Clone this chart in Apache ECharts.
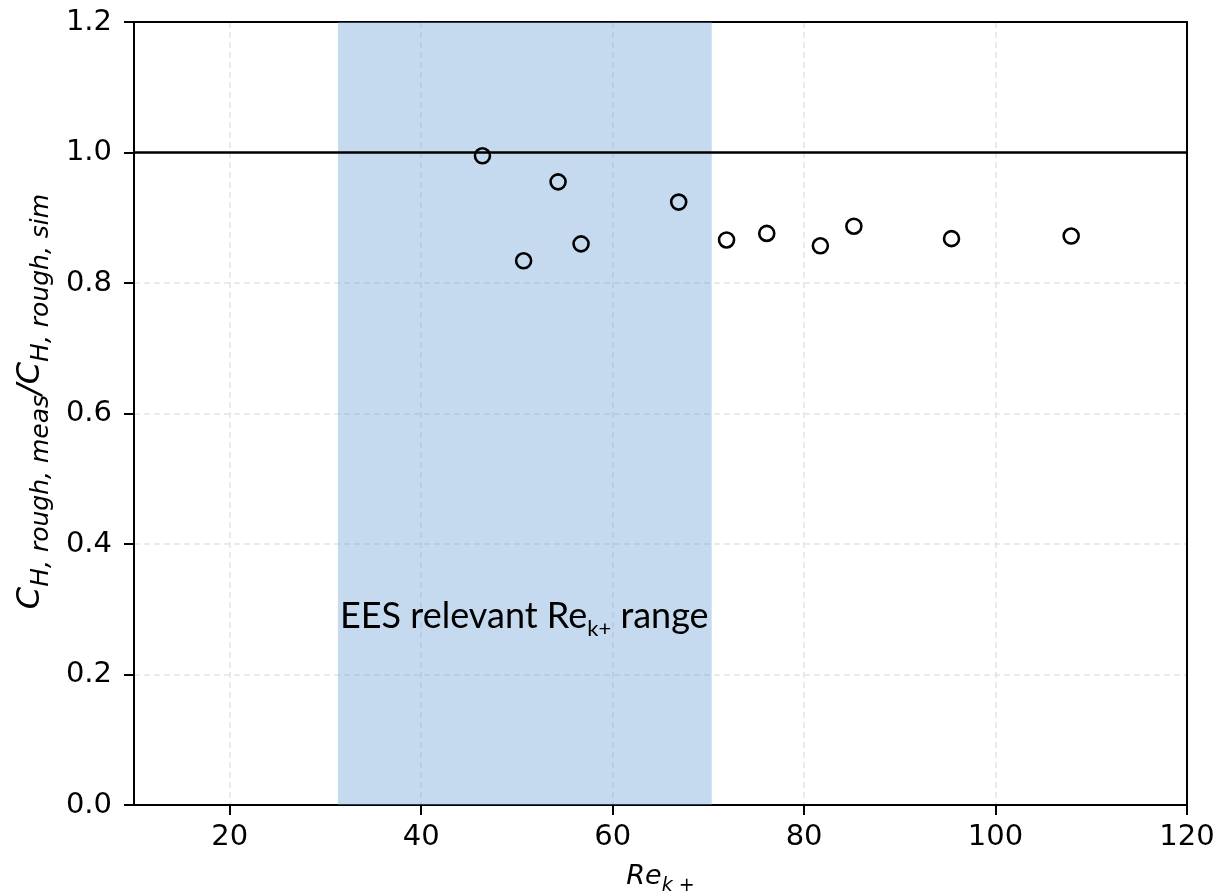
<!DOCTYPE html>
<html>
<head>
<meta charset="utf-8">
<script src="https://cdn.jsdelivr.net/npm/echarts@6/dist/echarts.min.js"></script>
<style>
  html, body { margin: 0; padding: 0; background: #fff; }
  #chart { width: 1223px; height: 896px; }
</style>
</head>
<body>
<div id="chart"></div>
<script>
// Roughness Reynolds number Re_k+ and the measured/simulated Stanton ratio
const reK = [46.4, 50.7, 54.3, 56.7, 66.9, 71.9, 76.1, 81.7, 85.2, 95.4, 107.9];
const chRatio = [0.995, 0.834, 0.955, 0.860, 0.924, 0.866, 0.876, 0.857, 0.887, 0.868, 0.872];

// Re_k+ band relevant for EES
const eesRange = [31.3, 70.35];
const referenceRatio = 1.0;

const xTicks = [20, 40, 60, 80, 100, 120];

const points = reK.map((x, i) => [x, chRatio[i]]);

const chart = echarts.init(document.getElementById('chart'), null, { renderer: 'canvas' });

const tickFont = { fontFamily: 'DejaVu Sans', fontSize: 29, color: '#000' };
const frameLine = { show: true, onZero: false, lineStyle: { color: '#000', width: 2 } };
const gridLine = { show: true, lineStyle: { color: '#e3e3e3', width: 1.5, type: [6, 4] } };

chart.setOption({
  animation: false,
  backgroundColor: '#fff',
  grid: { left: 134, right: 36, top: 22, bottom: 91, containLabel: false, outerBoundsMode: 'none' },
  xAxis: [
    {
      type: 'value', min: 10, max: 120,
      name: '{m|Re}{s|k +}',
      nameLocation: 'middle', nameGap: 58,
      nameTextStyle: {
        rich: {
          m: { fontFamily: 'DejaVu Sans', fontStyle: 'italic', fontSize: 27, color: '#000', verticalAlign: 'bottom', padding: [0, 0, 6, 0] },
          s: { fontFamily: 'DejaVu Sans', fontStyle: 'italic', fontSize: 19, color: '#000', verticalAlign: 'bottom' }
        }
      },
      axisLine: frameLine,
      axisTick: { show: true, customValues: xTicks, length: 10, lineStyle: { color: '#000', width: 2 } },
      axisLabel: { customValues: xTicks, margin: 18, ...tickFont },
      splitLine: gridLine
    },
    {
      type: 'value', min: 10, max: 120, position: 'top',
      axisLine: frameLine, axisTick: { show: false }, axisLabel: { show: false }, splitLine: { show: false }
    }
  ],
  yAxis: [
    {
      type: 'value', min: 0, max: 1.2, interval: 0.2,
      name: '{m|C}{s|H, rough, meas}{m|/C}{s|H, rough, sim}',
      nameLocation: 'middle', nameGap: 80, nameRotate: 90,
      nameTextStyle: {
        padding: [0, 0, 0, 24],
        rich: {
          m: { fontFamily: 'DejaVu Sans', fontStyle: 'italic', fontSize: 32, color: '#000', verticalAlign: 'bottom', padding: [0, 0, 7, 0] },
          s: { fontFamily: 'DejaVu Sans', fontStyle: 'italic', fontSize: 25, color: '#000', verticalAlign: 'bottom' }
        }
      },
      axisLine: frameLine,
      axisTick: { show: true, length: 10, lineStyle: { color: '#000', width: 2 } },
      axisLabel: { margin: 22, formatter: v => v.toFixed(1), ...tickFont },
      splitLine: gridLine
    },
    {
      type: 'value', min: 0, max: 1.2, interval: 0.2, position: 'right',
      axisLine: frameLine, axisTick: { show: false }, axisLabel: { show: false }, splitLine: { show: false }
    }
  ],
  series: [
    {
      type: 'scatter',
      z: 2,
      silent: true,
      data: points,
      symbol: 'circle',
      symbolSize: 15,
      itemStyle: { color: 'rgba(0,0,0,0)', borderColor: '#000', borderWidth: 2.6, opacity: 1 },
      markLine: {
        silent: true,
        symbol: 'none',
        label: { show: false },
        lineStyle: { color: '#000', width: 2.5, type: 'solid' },
        data: [{ yAxis: referenceRatio }]
      }
    },
    {
      type: 'scatter',
      z: 10,
      silent: true,
      data: [],
      markArea: {
        silent: true,
        itemStyle: { color: 'rgba(102,158,213,0.38)' },
        label: { show: false },
        data: [[{ xAxis: eesRange[0] }, { xAxis: eesRange[1] }]]
      }
    }
  ],
  graphic: [
    {
      type: 'text',
      left: 340, top: 598, z: 20,
      style: {
        text: '{t|EES relevant Re}{s|k+}{t| range}',
        rich: {
          t: { fontFamily: 'Lato', fontSize: 36, fill: '#000', verticalAlign: 'bottom', padding: [0, 0, 6, 0] },
          s: { fontFamily: 'Lato', fontSize: 22, fill: '#000', verticalAlign: 'bottom' }
        }
      }
    }
  ]
});
</script>
</body>
</html>
